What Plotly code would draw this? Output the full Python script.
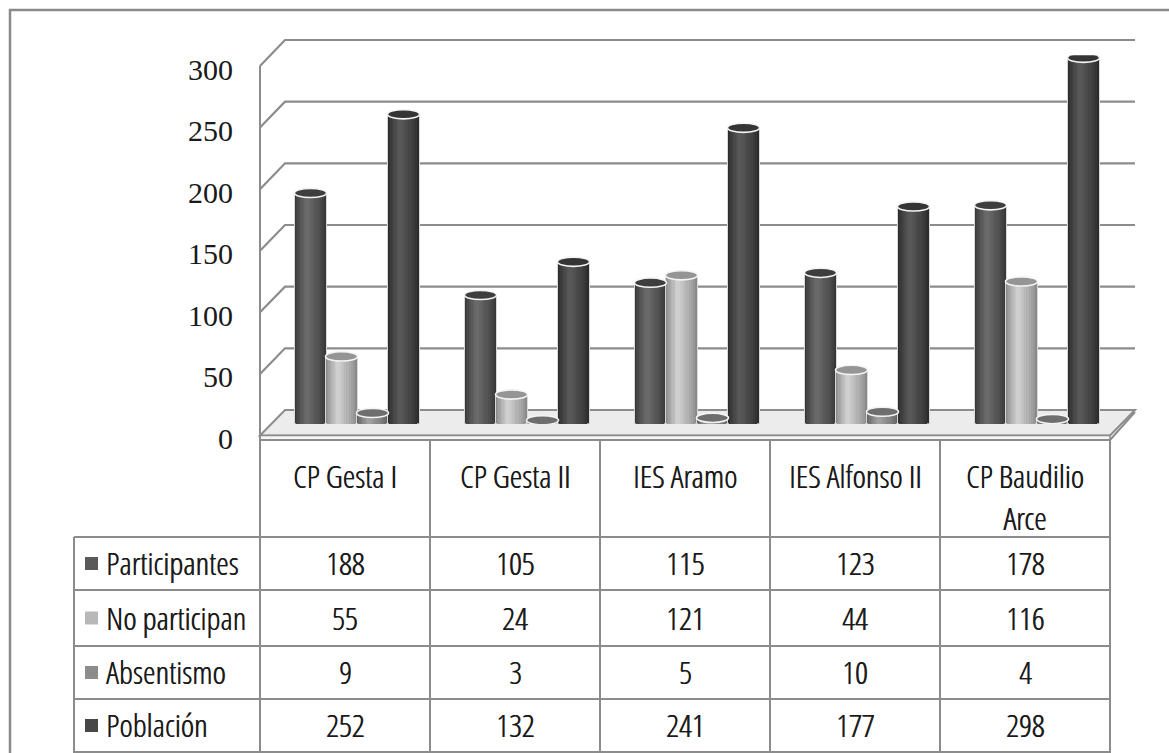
import plotly.graph_objects as go

# ---------------- data ----------------
categories = ["CP Gesta I", "CP Gesta II", "IES Aramo", "IES Alfonso II", "CP Baudilio<br>Arce"]
series_names = ["Participantes", "No participan", "Absentismo", "Población"]
participantes = [188, 105, 115, 123, 178]
no_participan = [55, 24, 121, 44, 116]
absentismo = [9, 3, 5, 10, 4]
poblacion = [252, 132, 241, 177, 298]
y_ticks = [0, 50, 100, 150, 200, 250, 300]

series_values = [participantes, no_participan, absentismo, poblacion]

# ---------------- styling ----------------
W, H = 1169, 753
GRID = "#8c8c8c"
TABLE_FONT = "Open Sans Condensed Light, Roboto Condensed, Liberation Sans, sans-serif"
TABLE_FONT_SIZE = 32
TEXT_SHADOW = "0.6px 0px 0px #1a1a1a"
styles = [
    ("#383838", "#6a6a6a", "#3e3e3e", "#5a5a5a"),
    ("#8a8a8a", "#cfcfcf", "#959595", "#b8b8b8"),
    ("#626262", "#a0a0a0", "#6e6e6e", "#8c8c8c"),
    ("#2c2c2c", "#585858", "#353535", "#474747"),
]


def fx(px):
    return px / W


def fy(py):
    return 1 - py / H


def mix(c1, c2, t):
    a = [int(c1[i:i + 2], 16) for i in (1, 3, 5)]
    b = [int(c2[i:i + 2], 16) for i in (1, 3, 5)]
    return "#" + "".join(f"{round(a[i] + (b[i] - a[i]) * t):02x}" for i in range(3))


# geometry of the pseudo-3D frame (pixels)
X_FRONT, X_BACK = 260, 285
COL_W = 170
N_CAT = len(categories)
X_END_FRONT = X_FRONT + COL_W * N_CAT
X_END_BACK = X_END_FRONT + 25
Y0_FRONT, PX_FRONT = 435.5, 369.5 / 300
Y0_BACK, PX_BACK = 410.0, 370.0 / 300
Y0_MID, PX_MID = 424.0, 1.229
DEPTH_SHIFT = 12

fig = go.Figure()

# cylinders: stacked stripes imitate the shading
step = 31 / COL_W
bw = 32 / COL_W
n_stripes = 9
hpos = 0.38
for s, vals in enumerate(series_values):
    edge, hi, top, _ = styles[s]
    centers = [i + 0.5 + (s - 1.5) * step for i in range(N_CAT)]
    for k in range(n_stripes):
        f = 1 - k / n_stripes
        left = hpos - f * hpos
        right = hpos + f * (1 - hpos)
        xs = [c - bw / 2 + bw * (left + right) / 2 for c in centers]
        t = (k / (n_stripes - 1)) ** 0.8
        fig.add_trace(go.Bar(
            x=xs, y=vals, width=[bw * (right - left)] * N_CAT,
            name=series_names[s],
            marker=dict(color=mix(edge, hi, t),
                        line=dict(width=1 if k == 0 else 0, color="#d8d8d8")),
            showlegend=False, hoverinfo="skip", xaxis="x", yaxis="y",
        ))

# invisible trace hosting the front-plane value axis
fig.add_trace(go.Scatter(x=[0.5], y=[0], yaxis="y2", xaxis="x", mode="markers",
                         marker=dict(opacity=0), showlegend=False, hoverinfo="skip"))

shapes = []
# floor
shapes.append(dict(type="path", xref="paper", yref="paper", layer="below",
                   path=f"M {fx(X_FRONT)},{fy(Y0_FRONT)} L {fx(X_BACK)},{fy(Y0_BACK)} "
                        f"L {fx(X_END_BACK)},{fy(Y0_BACK)} L {fx(X_END_FRONT)},{fy(Y0_FRONT)} Z",
                   fillcolor="#ececec", line=dict(color=GRID, width=2)))
shapes.append(dict(type="rect", xref="paper", yref="paper", layer="below",
                   x0=fx(X_FRONT), x1=fx(X_END_FRONT), y0=fy(Y0_FRONT), y1=fy(440),
                   fillcolor="#f6f6f6", line=dict(color=GRID, width=1.5)))
# back-wall gridlines with side-wall diagonals
for v in y_ticks[1:]:
    yb = Y0_BACK - v * PX_BACK
    yf = Y0_FRONT - v * PX_FRONT
    shapes.append(dict(type="path", xref="paper", yref="paper", layer="below",
                       path=f"M {fx(X_FRONT)},{fy(yf)} L {fx(X_BACK)},{fy(yb)} L {fx(X_END_BACK)},{fy(yb)}",
                       line=dict(color=GRID, width=2.2)))
# cylinder bottoms and tops
eh = 4.6 / PX_MID
for s, vals in enumerate(series_values):
    edge, hi, top, _ = styles[s]
    for i, v in enumerate(vals):
        c = i + 0.5 + (s - 1.5) * step
        shapes.append(dict(type="circle", xref="x", yref="y", layer="below",
                           x0=c - bw / 2, x1=c + bw / 2, y0=-eh, y1=eh,
                           fillcolor=mix(edge, hi, 0.4), line=dict(color="#d8d8d8", width=1)))
        shapes.append(dict(type="circle", xref="x", yref="y", layer="above",
                           x0=c - bw / 2, x1=c + bw / 2, y0=v - eh, y1=v + eh,
                           fillcolor=top, line=dict(color="#f4f4f4", width=1.6)))

# front vertical axis line (continues as table border)
shapes.append(dict(type="line", xref="paper", yref="paper",
                   x0=fx(X_FRONT), x1=fx(X_FRONT), y0=fy(Y0_FRONT - 300 * PX_FRONT), y1=fy(753),
                   line=dict(color=GRID, width=2)))
# data table grid
TABLE_TOP, HEAD_BOT = 440, 537
row_lines = [537, 590, 646, 699, 752]
for i in range(1, N_CAT + 1):
    xp = X_FRONT + COL_W * i
    shapes.append(dict(type="line", xref="paper", yref="paper",
                       x0=fx(xp), x1=fx(xp), y0=fy(TABLE_TOP), y1=fy(753),
                       line=dict(color=GRID, width=2)))
shapes.append(dict(type="line", xref="paper", yref="paper",
                   x0=fx(X_FRONT), x1=fx(X_END_FRONT), y0=fy(TABLE_TOP), y1=fy(TABLE_TOP),
                   line=dict(color=GRID, width=2)))
shapes.append(dict(type="line", xref="paper", yref="paper",
                   x0=fx(X_END_FRONT), x1=fx(X_END_BACK), y0=fy(440), y1=fy(Y0_BACK + 2),
                   line=dict(color=GRID, width=2)))
for yl in row_lines:
    shapes.append(dict(type="line", xref="paper", yref="paper",
                       x0=fx(74), x1=fx(X_END_FRONT), y0=fy(yl), y1=fy(yl),
                       line=dict(color=GRID, width=2)))
shapes.append(dict(type="line", xref="paper", yref="paper",
                   x0=fx(74), x1=fx(74), y0=fy(HEAD_BOT), y1=fy(753),
                   line=dict(color=GRID, width=2)))
# outer chart border
shapes.append(dict(type="rect", xref="paper", yref="paper",
                   x0=fx(10), x1=fx(1180), y0=fy(10), y1=fy(770),
                   line=dict(color="#8a8a8a", width=2.5)))

tfont = dict(family=TABLE_FONT, size=TABLE_FONT_SIZE, color="#1a1a1a", shadow=TEXT_SHADOW)
annotations = []
for i, cat in enumerate(categories):
    cx = X_FRONT + COL_W * (i + 0.5)
    annotations.append(dict(x=fx(cx), y=fy(452), xref="paper", yref="paper",
                            text=cat, showarrow=False, xanchor="center", yanchor="top",
                            font=tfont))
row_centers = [(row_lines[r] + row_lines[r + 1]) / 2 for r in range(4)]
for s, name in enumerate(series_names):
    yc = row_centers[s]
    shapes.append(dict(type="rect", xref="paper", yref="paper",
                       x0=fx(85), x1=fx(98), y0=fy(yc - 6.5), y1=fy(yc + 6.5),
                       fillcolor=styles[s][3], line=dict(width=0)))
    annotations.append(dict(x=fx(104), y=fy(yc - 1), xref="paper", yref="paper",
                            text=name, showarrow=False, xanchor="left", yanchor="middle",
                            font=tfont))
    for i, v in enumerate(series_values[s]):
        cx = X_FRONT + COL_W * (i + 0.5)
        annotations.append(dict(x=fx(cx), y=fy(yc - 1), xref="paper", yref="paper",
                                text=str(v), showarrow=False, xanchor="center", yanchor="middle",
                                font=tfont))

fig.update_layout(
    width=W, height=H,
    margin=dict(l=0, r=0, t=0, b=0, autoexpand=False),
    paper_bgcolor="white", plot_bgcolor="rgba(0,0,0,0)",
    barmode="overlay", bargap=0,
    showlegend=False,
    xaxis=dict(domain=[fx(X_FRONT + DEPTH_SHIFT), fx(X_END_FRONT + DEPTH_SHIFT)], range=[0, N_CAT],
               visible=False, fixedrange=True, automargin=False),
    yaxis=dict(domain=[fy(Y0_MID), fy(Y0_MID - 300 * PX_MID)], range=[0, 300],
               visible=False, fixedrange=True, automargin=False),
    yaxis2=dict(domain=[fy(Y0_FRONT), fy(Y0_FRONT - 300 * PX_FRONT)], range=[0, 300],
                overlaying="y", anchor="free", position=fx(X_FRONT), side="left",
                tickvals=y_ticks, ticks="outside", ticklen=0, ticklabelstandoff=21,
                ticklabelshift=14,
                showgrid=False, showline=False, zeroline=False, automargin=False,
                tickfont=dict(family="Liberation Serif, Times New Roman, serif", size=30, color="#1a1a1a"),
                fixedrange=True),
    shapes=shapes,
    annotations=annotations,
)

fig.write_html("out.html")
